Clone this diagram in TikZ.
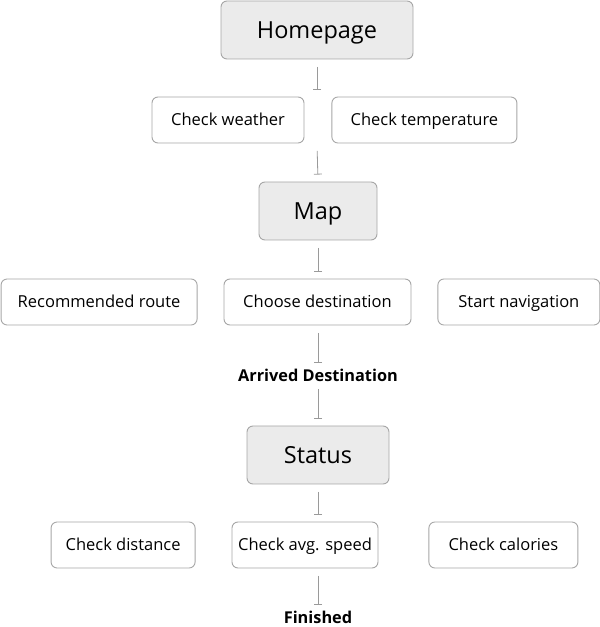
\documentclass[tikz,border=0pt]{standalone}
\usepackage{fontspec}
\setmainfont{Open Sans}
\usepackage{xcolor}
\usetikzlibrary{arrows.meta,positioning}
\definecolor{edgegray}{HTML}{A6A6A6}
\definecolor{boxgray}{HTML}{EBEBEB}
\definecolor{linegray}{HTML}{9A9A9A}
\tikzset{
  screen/.style={draw=edgegray, rounded corners=6pt, fill=boxgray, line width=0.9pt, align=center, font=\fontsize{23.5}{27}\selectfont, minimum height=58pt, inner sep=0pt, text height=16.8pt, text depth=0pt},
  action/.style={draw=edgegray, rounded corners=6pt, fill=white, line width=0.9pt, align=center, font=\fontsize{16.5}{19}\selectfont, minimum height=46pt, inner sep=0pt, text height=11.8pt, text depth=0pt},
  event/.style={font=\bfseries\fontsize{16.3}{19}\selectfont, inner sep=0pt, text height=11.6pt, text depth=0pt},
  conn/.style={-{Bar[width=8pt]}, draw=linegray, line width=0.8pt, shorten <=7.5pt, shorten >=7pt},
}
\begin{document}
\begin{tikzpicture}[x=1pt, y=1pt]
\useasboundingbox (0,0) rectangle (600,627);
\node[screen, minimum width=192pt] (home) at (317,597) {Homepage};
\node[action, minimum width=152pt] (wthr) at (228,507) {Check weather};
\node[action, minimum width=185pt, right=27pt of wthr] (temp) {Check temperature};
\node[screen, minimum width=118pt] (map) at (318,416) {Map};
\node[action, minimum width=187pt] (choose) at (317.5,325) {Choose destination};
\node[action, minimum width=196pt, left=26pt of choose] (route) {Recommended route};
\node[action, minimum width=162pt, right=26pt of choose] (nav) {Start navigation};
\node[event] (arr) at (318,251) {Arrived Destination};
\node[screen, minimum width=142pt] (status) at (318,172) {Status};
\node[action, minimum width=146pt] (speed) at (305,82) {Check avg. speed};
\node[action, minimum width=144pt, left=36pt of speed] (dist) {Check distance};
\node[action, minimum width=149pt, right=50pt of speed] (cal) {Check calories};
\node[event] (fin) at (318,9) {Finished};
% links down the flow
\draw[conn] (home.south) -- (home.south |- wthr.north);
\draw[conn] (home.south |- wthr.south) -- (map.north);
\draw[conn] (map.south) -- (map.south |- choose.north);
\draw[conn] (map.south |- choose.south) -- (map.south |- arr.north);
\draw[conn] (map.south |- arr.south) -- (status.north);
\draw[conn] (status.south) -- (status.south |- speed.north);
\draw[conn] (status.south |- speed.south) -- (fin.north);
\end{tikzpicture}
\end{document}
